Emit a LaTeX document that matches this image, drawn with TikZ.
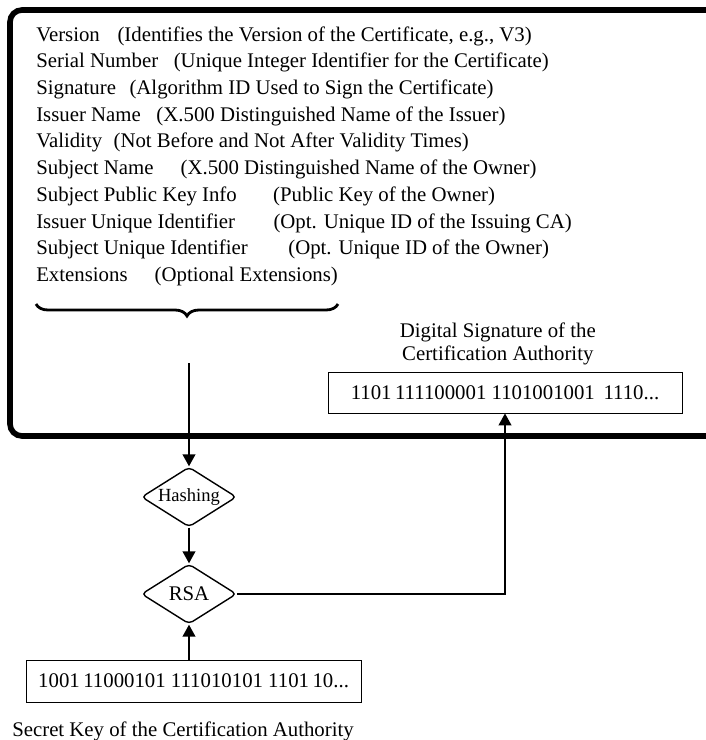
\documentclass[tikz,border=0pt]{standalone}
\usepackage{fontspec}
\setmainfont{Liberation Serif}
\usetikzlibrary{arrows.meta, shapes.geometric, positioning, decorations.pathreplacing}

\begin{document}
\begin{tikzpicture}[
  every node/.style={font=\fontsize{14.8}{18}\selectfont},
  field/.style={anchor=base west, inner sep=0pt},
  bitbox/.style={draw, line width=0.6pt, inner sep=0pt},
  opbox/.style={diamond, aspect=1.6, draw, line width=1pt, rounded corners=3pt, inner sep=0pt, minimum width=2.375cm, minimum height=1.5cm},
  flow/.style={line width=1.2pt, -{Triangle[length=0.3cm, width=0.32cm]}}
]

\useasboundingbox (0,0) rectangle (17.65,-18.5);

% certificate
\draw [line width = 4pt, rounded corners = 0.3cm] (0.25,-0.25) rectangle (18.3,-10.9);

\node (f1) [field] at (0.9,-1.025) {Version\hspace{0.85em}(Identifies the Version of the Certificate, e.g., V3)};
\node (f2) [field] at (0.9,-1.693) {Serial Number\hspace{0.75em}(Unique Integer Identifier for the Certificate)};
\node (f3) [field] at (0.9,-2.361) {Signature\hspace{0.65em}(Algorithm ID Used to Sign the Certificate)};
\node (f4) [field] at (0.9,-3.029) {Issuer Name\hspace{0.75em}(X.500 Distinguished Name of the Issuer)};
\node (f5) [field] at (0.9,-3.697) {Validity\hspace{0.55em}(Not Before and Not After Validity Times)};
\node (f6) [field] at (0.9,-4.365) {Subject Name\hspace{1.3em}(X.500 Distinguished Name of the Owner)};
\node (f7) [field] at (0.9,-5.033) {Subject Public Key Info\hspace{1.75em}(Public Key of the Owner)};
\node (f8) [field] at (0.9,-5.701) {Issuer Unique Identifier\hspace{1.85em}(Opt. Unique ID of the Issuing CA)};
\node (f9) [field] at (0.9,-6.369) {Subject Unique Identifier\hspace{1.95em}(Opt. Unique ID of the Owner)};
\node (f10) [field] at (0.9,-7.037) {Extensions\hspace{1.3em}(Optional Extensions)};

\draw [decorate, decoration = {brace, amplitude = 0.3cm}, line width = 2pt] (8.45,-7.6) -- (0.9,-7.6);
\coordinate (hashin) at (4.725,-9.075);

\node (sig) [bitbox, minimum width=8.85cm, minimum height=1.025cm] at (12.625,-9.8125) {1101\,111100001 1101001001\ \,1110...};
\node (sigtitle) [above=0.16cm of sig, xshift=-0.18cm, align=center, inner sep=0pt, font=\fontsize{14.8}{16.3}\selectfont] {Digital Signature of the\\Certification Authority};

% signing
\node (hash) [opbox, font=\fontsize{13.2}{15}\selectfont] at (4.725,-12.425) {Hashing};
\node (rsa) [opbox] at (4.725,-14.85) {RSA};

\node (key) [bitbox, minimum width=8.375cm, minimum height=1.05cm] at (4.84,-17.025) {1001\,11000101 111010101 1101\,10...};
\node (keylabel) [anchor=base west, inner sep=0pt] at (0.3,-18.42) {Secret Key of the Certification Authority};

\draw [flow] (hashin) -- (hash);
\draw [flow] (hash) -- (rsa);
\draw [flow] (key.north -| rsa.south) -- (rsa);
\draw [flow] (rsa) -| (sig);

\end{tikzpicture}
\end{document}
